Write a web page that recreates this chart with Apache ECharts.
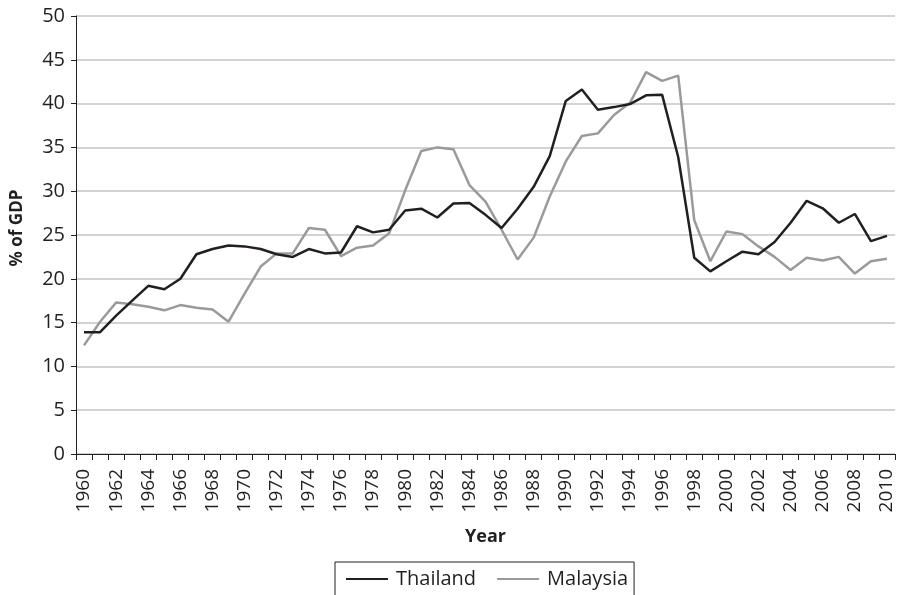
<!DOCTYPE html>
<html>
<head>
<meta charset="utf-8">
<script src="https://cdn.jsdelivr.net/npm/echarts@6/dist/echarts.min.js"></script>
<style>
html,body{margin:0;padding:0;background:#fff;}
#chart{width:902px;height:595px;}
</style>
</head>
<body>
<div id="chart"></div>
<script>
var years = [];
for (var y = 1960; y <= 2010; y++) years.push(String(y));

var thailand = [
  13.9, 13.9, 15.8, 17.5, 19.2, 18.8, 20.0, 22.8, 23.4, 23.8,
  23.7, 23.4, 22.8, 22.5, 23.4, 22.9, 23.0, 26.0, 25.3, 25.6,
  27.8, 28.0, 27.0, 28.6, 28.65, 27.3, 25.8, 28.0, 30.5, 34.0,
  40.3, 41.6, 39.3, 39.6, 39.95, 40.95, 41.0, 33.9, 22.4, 20.85,
  22.0, 23.1, 22.8, 24.2, 26.4, 28.9, 28.05, 26.4, 27.4, 24.3,
  24.9
];
var malaysia = [
  12.4, 15.1, 17.3, 17.1, 16.8, 16.4, 17.0, 16.7, 16.5, 15.1,
  18.3, 21.4, 22.9, 22.9, 25.8, 25.6, 22.6, 23.55, 23.8, 25.2,
  30.1, 34.6, 35.0, 34.8, 30.7, 28.8, 25.6, 22.2, 24.7, 29.4,
  33.4, 36.3, 36.6, 38.7, 40.1, 43.6, 42.6, 43.2, 26.7, 22.0,
  25.4, 25.1, 23.7, 22.5, 21.0, 22.4, 22.1, 22.5, 20.6, 22.0,
  22.3
];
var seriesNames = ['Thailand', 'Malaysia'];
var yTitle = '% of GDP';
var xTitle = 'Year';

var FONT = 'Open Sans';
var TXT = '#231f20';

var chart = echarts.init(document.getElementById('chart'), null, {renderer: 'canvas'});
chart.setOption({
  animation: false,
  backgroundColor: '#ffffff',
  grid: {left: 76, right: 7, top: 16, bottom: 141, containLabel: false},
  legend: {
    data: seriesNames,
    left: 335,
    top: 562,
    padding: [7, 6, 20, 11],
    itemGap: 21,
    itemWidth: 42,
    itemHeight: 14,
    borderColor: '#231f20',
    borderWidth: 1,
    icon: 'path://M0,6 L42,6 L42,8 L0,8 Z',
    textStyle: {fontFamily: FONT, fontSize: 20, color: TXT, padding: [0, 0, 0, 3]}
  },
  xAxis: {
    type: 'category',
    data: years,
    boundaryGap: true,
    name: xTitle,
    nameLocation: 'middle',
    nameGap: 74,
    nameTextStyle: {fontFamily: FONT, fontSize: 18, fontWeight: 'bold', color: TXT},
    axisLine: {show: true, lineStyle: {color: '#231f20', width: 1}},
    axisTick: {show: true, interval: 0, length: 6, lineStyle: {color: '#231f20'}},
    axisLabel: {
      interval: 1,
      rotate: 90,
      margin: 15,
      fontFamily: FONT,
      fontSize: 19,
      color: TXT
    },
    splitLine: {show: false}
  },
  yAxis: {
    type: 'value',
    min: 0,
    max: 50,
    interval: 5,
    name: yTitle,
    nameLocation: 'middle',
    nameGap: 50,
    nameTextStyle: {fontFamily: FONT, fontSize: 17, fontWeight: 'bold', color: TXT, padding: [0, 0, 0, 14]},
    axisLine: {show: true, lineStyle: {color: '#231f20', width: 1}},
    axisTick: {show: true, length: 5, lineStyle: {color: '#231f20'}},
    axisLabel: {fontFamily: FONT, fontSize: 20, color: TXT, margin: 11},
    splitLine: {show: true, lineStyle: {color: '#c4c4c4', width: 1.5}}
  },
  series: [
    {
      name: seriesNames[0],
      type: 'line',
      data: thailand,
      symbol: 'none',
      z: 3,
      lineStyle: {color: '#231f20', width: 2.5},
      itemStyle: {color: '#231f20'}
    },
    {
      name: seriesNames[1],
      type: 'line',
      data: malaysia,
      symbol: 'none',
      z: 2,
      lineStyle: {color: '#9a9a9a', width: 2.5},
      itemStyle: {color: '#9a9a9a'}
    }
  ]
});
</script>
</body>
</html>
